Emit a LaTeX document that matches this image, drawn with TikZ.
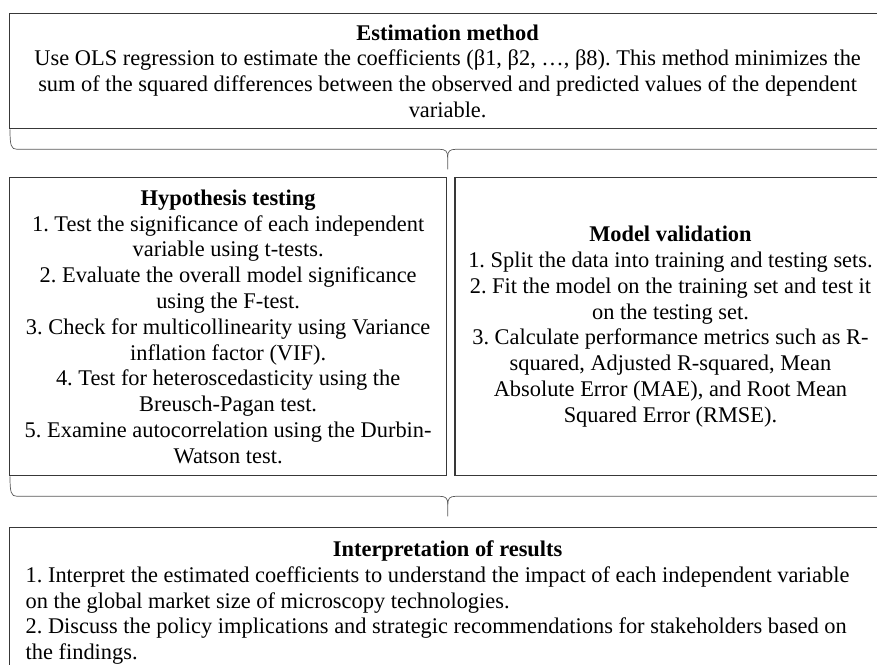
\documentclass[tikz,border=0pt]{standalone}
\usepackage{fontspec}
\setmainfont{Liberation Serif}
\usetikzlibrary{calc,positioning}

\tikzset{
  panel/.style={draw=black!78, line width=1.3pt, inner sep=0pt, align=center},
  bracket/.style={draw=black!65, line width=0.7pt},
}

% curly joint under a row of boxes, #1 left corner, #2 right corner
\newcommand{\joinbrace}[2]{%
  \coordinate (bm) at ($(#1)!0.5!(#2)$);
  \draw[bracket] ($(#1)+(1,0)$) .. controls ($(#1)+(1,16)$) and ($(#1)+(2,20)$) .. ($(#1)+(8,20)$)
    -- ($(bm)+(-8,20)$) .. controls ($(bm)+(-2,20)$) and ($(bm)+(0,22)$) .. ($(bm)+(0,28)$) -- ($(bm)+(0,40)$);
  \draw[bracket] ($(#2)+(-1,0)$) .. controls ($(#2)+(-1,16)$) and ($(#2)+(-2,20)$) .. ($(#2)+(-8,20)$)
    -- ($(bm)+(8,20)$) .. controls ($(bm)+(2,20)$) and ($(bm)+(0,22)$) .. ($(bm)+(0,28)$);
}

\begin{document}
\begin{tikzpicture}[x=1pt,y=-1pt,font=\fontsize{22.4}{25.8}\selectfont\frenchspacing]
\useasboundingbox (0,0) rectangle (877,664);
\clip (0,0) rectangle (877,664);

\node[panel,anchor=north west,minimum width=876,minimum height=115] (est) at (9,13) {%
\textbf{Estimation method}\\
Use OLS regression to estimate the coefficients (β1, β2, …, β8). This method minimizes the\\
sum of the squared differences between the observed and predicted values of the dependent\\
variable.};

\node[panel,anchor=north west,minimum width=437,minimum height=298] (hyp) at (9,177) {%
\textbf{Hypothesis testing}\\
1. Test the significance of each independent\\
variable using t-tests.\\
2. Evaluate the overall model significance\\
using the F-test.\\
3. Check for multicollinearity using Variance\\
inflation factor (VIF).\\
4. Test for heteroscedasticity using the\\
Breusch-Pagan test.\\
5. Examine autocorrelation using the Durbin-\\
Watson test.};

\node[panel,right=7pt of hyp,minimum width=431,minimum height=298] (val) {%
\textbf{Model validation}\\
1. Split the data into training and testing sets.\\
2. Fit the model on the training set and test it\\
on the testing set.\\
3. Calculate performance metrics such as R-\\
squared, Adjusted R-squared, Mean\\
Absolute Error (MAE), and Root Mean\\
Squared Error (RMSE).};

\node[panel,anchor=north west,align=flush left,text width=844,inner xsep=16,inner ysep=13] (res) at (9,527) {%
\centerline{\bfseries Interpretation of results}
1. Interpret the estimated coefficients to understand the impact of each independent variable\\
on the global market size of microscopy technologies.\\
2. Discuss the policy implications and strategic recommendations for stakeholders based on\\
the findings.};

\joinbrace{est.south west}{est.south east}
\joinbrace{hyp.south west}{val.south east}

\end{tikzpicture}
\end{document}
